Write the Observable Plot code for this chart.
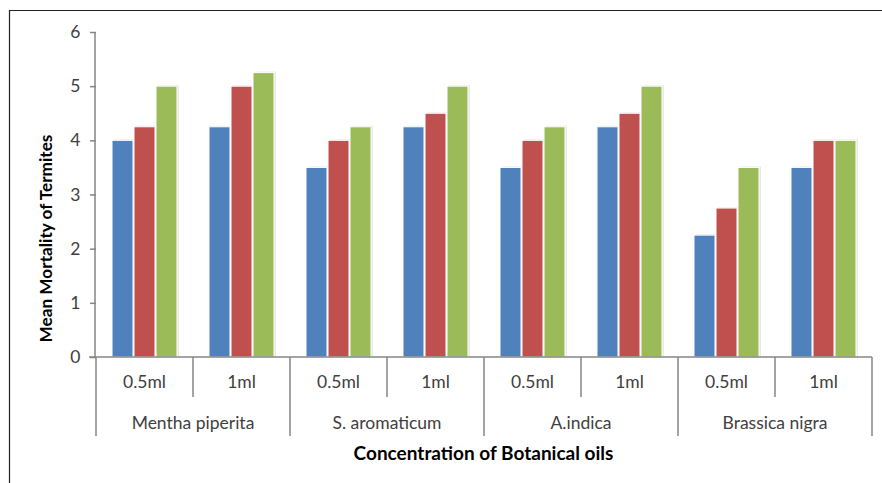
<!DOCTYPE html>
<html>
<head>
<meta charset="utf-8">
<script src="https://cdn.jsdelivr.net/npm/d3@7"></script>
<script src="https://cdn.jsdelivr.net/npm/@observablehq/plot@0.6"></script>
<style>
  html, body { margin: 0; padding: 0; background: white; }
  #chart svg { display: block; }
</style>
</head>
<body>
<div id="chart"></div>
<script>
const oils = ["Mentha piperita", "S. aromaticum", "A.indica", "Brassica nigra"];
const concs = ["0.5ml", "1ml"];
const series = ["Series1", "Series2", "Series3"];
// values per slot: Mentha 0.5, Mentha 1, S.arom 0.5, S.arom 1, A.indica 0.5, A.indica 1, Brassica 0.5, Brassica 1
const series1 = [4, 4.25, 3.5, 4.25, 3.5, 4.25, 2.25, 3.5];
const series2 = [4.25, 5, 4, 4.5, 4, 4.5, 2.75, 4];
const series3 = [5, 5.25, 4.25, 5, 4.25, 5, 3.5, 4];
const yTicks = [0, 1, 2, 3, 4, 5, 6];
const colors = ["#4F81BD", "#C0504D", "#9BBB59"];
const yTitle = "Mean Mortality of Termites";
const xTitle = "Concentration of Botanical oils";

const slots = [];
oils.forEach(o => concs.forEach(c => slots.push({oil: o, conc: c, key: o + "|" + c})));
const seriesValues = [series1, series2, series3];
const data = [];
slots.forEach((s, i) => series.forEach((name, j) => data.push({slot: s.key, series: name, value: seriesValues[j][i]})));

const axisColor = "#868686";
const textColor = "#404040";
const W = 882, H = 483;
const FONT = "Lato, 'Open Sans', sans-serif";
const FS = 17.5;

const chart = Plot.plot({
  width: W,
  height: H,
  marginLeft: 95,
  marginRight: 10,
  marginTop: 32,
  marginBottom: 126,
  style: {fontFamily: FONT, fontSize: FS + "px", background: "white", color: textColor},
  fx: {domain: slots.map(s => s.key), padding: 0, axis: null},
  x: {domain: series, paddingInner: 0.03, paddingOuter: 0.7, axis: null},
  y: {domain: [0, 6], axis: null},
  color: {domain: series, range: colors},
  marks: [
    Plot.barY(data, {fx: "slot", x: "series", y: "value", fill: "#000", fillOpacity: 0.09, dx: 2, dy: -1}),
    Plot.barY(data, {fx: "slot", x: "series", y: "value", fill: "series", stroke: "white", strokeWidth: 1}),
    Plot.axisY(yTicks, {tickSize: 6, tickPadding: 10, tickFormat: d => String(d), stroke: axisColor, strokeWidth: 1.5, fill: textColor, label: null, fontSize: FS})
  ]
});
document.getElementById("chart").appendChild(chart);

// hierarchical category axis drawn from the plot's own scales
const fxDesc = chart.scale("fx");
const y = Plot.scale({y: chart.scale("y")});
const bw = fxDesc.bandwidth;
const y0 = y.apply(0);
const left = 95;
const right = W - 10;
const g = d3.select(chart).append("g")
  .attr("font-family", FONT).attr("font-size", FS);
// outer frame (top and left)
g.append("line").attr("x1", 9).attr("x2", W).attr("y1", 10.5).attr("y2", 10.5)
  .attr("stroke", "#222").attr("stroke-width", 1.2);
g.append("line").attr("x1", 9.5).attr("x2", 9.5).attr("y1", 10).attr("y2", H)
  .attr("stroke", "#222").attr("stroke-width", 1.2);
// y axis line
g.append("line").attr("x1", left).attr("x2", left).attr("y1", y.apply(6)).attr("y2", y0)
  .attr("stroke", axisColor).attr("stroke-width", 1.5);
// baseline
g.append("line").attr("x1", left - 6).attr("x2", right).attr("y1", y0).attr("y2", y0)
  .attr("stroke", axisColor).attr("stroke-width", 1.5);
slots.forEach((s, i) => {
  const x = fxDesc.apply(s.key);
  const isGroup = i % 2 === 0;
  g.append("line").attr("x1", x).attr("x2", x).attr("y1", y0).attr("y2", y0 + (isGroup ? 79 : 40))
    .attr("stroke", axisColor).attr("stroke-width", 1.5);
  g.append("text").attr("x", x + bw / 2).attr("y", y0 + 25).attr("text-anchor", "middle")
    .attr("dy", "0.35em").attr("fill", textColor).text(s.conc);
  if (isGroup) {
    g.append("text").attr("x", x + bw).attr("y", y0 + 66).attr("text-anchor", "middle")
      .attr("dy", "0.35em").attr("fill", textColor).text(s.oil);
  }
});
const last = fxDesc.apply(slots[slots.length - 1].key) + bw;
g.append("line").attr("x1", last).attr("x2", last).attr("y1", y0).attr("y2", y0 + 79)
  .attr("stroke", axisColor).attr("stroke-width", 1.5);
// titles
g.append("text").attr("x", (left + last) / 2).attr("y", y0 + 96).attr("text-anchor", "middle")
  .attr("dy", "0.35em").attr("font-weight", "bold").attr("font-size", 19).attr("fill", "#000").text(xTitle);
g.append("text").attr("transform", `translate(46,${(y.apply(6) + y0) / 2 + 44}) rotate(-90)`)
  .attr("text-anchor", "middle").attr("dy", "0.35em").attr("font-weight", "bold").attr("font-size", 17.2)
  .attr("fill", "#000").text(yTitle);
</script>
</body>
</html>
